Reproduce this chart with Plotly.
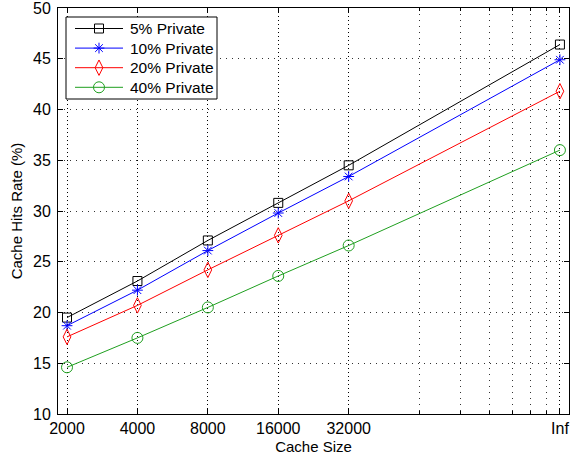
import plotly.graph_objects as go

# Cache sizes (the last one stands for an unlimited cache)
cache_sizes = [2000, 4000, 8000, 16000, 32000, 256000]
tick_labels = ["2000", "4000", "8000", "16000", "32000", "Inf"]

# Cache hit rate (%) per private-content share
private_5 = [19.5, 23.1, 27.1, 30.8, 34.5, 46.4]
private_10 = [18.7, 22.2, 26.1, 29.8, 33.4, 44.9]
private_20 = [17.6, 20.7, 24.2, 27.6, 31.0, 41.8]
private_40 = [14.6, 17.5, 20.5, 23.6, 26.6, 36.0]

series_names = ["5% Private", "10% Private", "20% Private", "40% Private"]
minor_grid = [64000, 96000, 128000, 160000, 192000, 224000]

styles = [
    dict(color="#000000", symbol="square-open", size=9),
    dict(color="#0000ff", symbol="asterisk-open", size=9),
    dict(color="#ff0000", symbol="diamond-tall-open", size=11),
    dict(color="#1f9f1f", symbol="circle-open", size=11),
]

# Figure / plot-area geometry in pixels
W, H = 573, 459
PL, PR, PT, PB = 58, 569, 8, 414


def fx(px):
    return (px - PL) / (PR - PL)


def fy(py):
    return (PB - py) / (PB - PT)


family = "Liberation Sans, Arial, sans-serif"
tick_font = dict(family=family, size=16, color="#000000")
title_font = dict(family=family, size=15, color="#000000")
legend_font = dict(family=family, size=15.5, color="#000000")

fig = go.Figure()
for name, ys, st in zip(series_names, [private_5, private_10, private_20, private_40], styles):
    fig.add_trace(go.Scatter(
        x=cache_sizes, y=ys, name=name, mode="lines+markers", showlegend=False,
        line=dict(color=st["color"], width=1),
        marker=dict(symbol=st["symbol"], size=st["size"], color=st["color"],
                    line=dict(color=st["color"], width=1)),
    ))

# Boxed legend in the upper-left corner, drawn on an overlay axis in domain units
box_l, box_r, box_t, box_b = 66, 217, 17, 99
row0, row_step = 28.5, 19.6
key_l, key_r, key_m, text_x = 75, 123, 99, 128

fig.add_trace(go.Scatter(
    x=[fx(box_l), fx(box_r), fx(box_r), fx(box_l), fx(box_l)],
    y=[fy(box_b), fy(box_b), fy(box_t), fy(box_t), fy(box_b)],
    mode="lines", fill="toself", fillcolor="white",
    line=dict(color="black", width=1), xaxis="x2", yaxis="y2",
    showlegend=False, hoverinfo="skip",
))

for i, (name, st) in enumerate(zip(series_names, styles)):
    yc = fy(row0 + i * row_step)
    fig.add_trace(go.Scatter(
        x=[fx(key_l), fx(key_r)], y=[yc, yc], mode="lines", xaxis="x2", yaxis="y2",
        line=dict(color=st["color"], width=1), showlegend=False, hoverinfo="skip",
    ))
    fig.add_trace(go.Scatter(
        x=[fx(key_m)], y=[yc], mode="markers", xaxis="x2", yaxis="y2",
        marker=dict(symbol=st["symbol"], size=st["size"], color=st["color"],
                    line=dict(color=st["color"], width=1)),
        showlegend=False, hoverinfo="skip",
    ))
    fig.add_annotation(x=fx(text_x), y=yc, xref="x2", yref="y2", text=name,
                       showarrow=False, xanchor="left", yanchor="middle",
                       font=legend_font)

fig.update_layout(
    width=W, height=H,
    margin=dict(l=PL, r=W - PR, t=PT, b=H - PB, autoexpand=False),
    paper_bgcolor="white", plot_bgcolor="white",
    font=title_font,
    showlegend=False,
    xaxis2=dict(overlaying="x", range=[0, 1], visible=False, anchor="y2"),
    yaxis2=dict(overlaying="y", range=[0, 1], visible=False, anchor="x2"),
)

fig.update_layout(xaxis=dict(
    type="log", automargin=False,
    range=[3.2625, 5.447],
    tickmode="array", tickvals=cache_sizes, ticktext=tick_labels,
    ticks="inside", ticklen=5, tickcolor="black",
    showline=True, linecolor="black", linewidth=1, mirror="ticks",
    showgrid=True, gridcolor="#000000", griddash="1px,3px", gridwidth=1,
    zeroline=False, ticklabeloverflow="allow",
    minor=dict(tickmode="array", tickvals=minor_grid, ticks="inside", ticklen=3,
               tickcolor="black", showgrid=True, gridcolor="#333333",
               griddash="1px,5px", gridwidth=1),
    title=dict(text="Cache Size", font=title_font, standoff=5),
    tickfont=tick_font,
))

fig.update_layout(yaxis=dict(
    automargin=False,
    range=[10, 50],
    tickmode="array", tickvals=[10, 15, 20, 25, 30, 35, 40, 45, 50],
    ticks="inside", ticklen=5, tickcolor="black",
    showline=True, linecolor="black", linewidth=1, mirror="ticks",
    showgrid=True, gridcolor="#333333", griddash="1px,5px", gridwidth=1,
    zeroline=False, ticklabeloverflow="allow", ticklabelstandoff=3,
    title=dict(text="Cache Hits Rate (%)", font=title_font, standoff=6),
    tickfont=tick_font,
))

fig.write_html("out.html")
